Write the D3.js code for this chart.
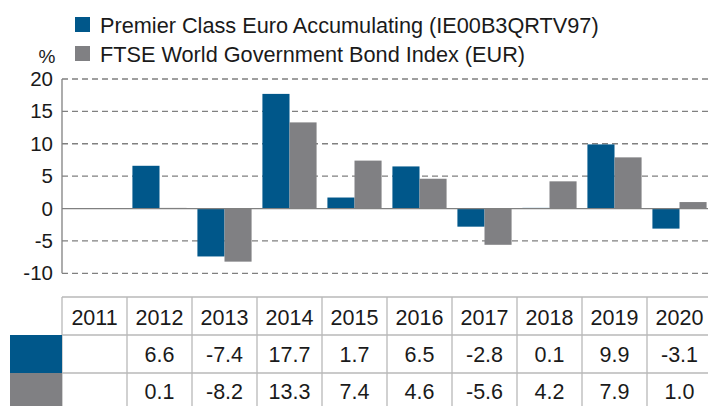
<!DOCTYPE html>
<html><head><meta charset="utf-8">
<script src="https://cdn.jsdelivr.net/npm/d3@7"></script>
<style>
html,body{margin:0;padding:0;background:#fff;overflow:hidden;}
text{font-family:"Liberation Sans",Arial,sans-serif;fill:#1a1a1a;}
</style></head>
<body>
<svg id="c" width="708" height="406"></svg>
<script>
const years = ["2011","2012","2013","2014","2015","2016","2017","2018","2019","2020"];
const fundValues = [null, 6.6, -7.4, 17.7, 1.7, 6.5, -2.8, 0.1, 9.9, -3.1];
const indexValues = [null, 0.1, -8.2, 13.3, 7.4, 4.6, -5.6, 4.2, 7.9, 1.0];
const seriesNames = ["Premier Class Euro Accumulating (IE00B3QRTV97)", "FTSE World Government Bond Index (EUR)"];
const yTicks = [20, 15, 10, 5, 0, -5, -10];
const colors = ["#00578a", "#808083"];

const svg = d3.select("#c");
const x = d3.scaleBand().domain(years).range([62, 712]).paddingInner(0).paddingOuter(0);
const y = d3.scaleLinear().domain([-10, 20]).range([273.3, 79]);
const inner = d3.scaleBand().domain([0,1]).range([0, x.bandwidth()]).paddingOuter(0.2).paddingInner(0);
const hy = v => String(v).replace("\u2212", "-");

// gridlines
const grid = svg.append("g");
yTicks.forEach(t => {
  if (t === 0) return;
  grid.append("line").attr("x1", 62).attr("x2", 708).attr("y1", y(t)).attr("y2", y(t))
    .attr("stroke", "#808080").attr("stroke-width", 1.3).attr("stroke-dasharray", "6,4");
});

// y axis labels
const yAxis = d3.axisLeft(y).tickValues(yTicks).tickSize(0).tickPadding(9).tickFormat(d => hy(d));
const ya = svg.append("g").attr("transform", "translate(62,0)").call(yAxis);
ya.select(".domain").remove();
ya.selectAll("text").attr("font-size", 20.5).attr("fill", "#1a1a1a").attr("font-family", "Liberation Sans, Arial, sans-serif");

// bars
const data = [fundValues, indexValues];
data.forEach((vals, si) => {
  svg.append("g").selectAll("rect").data(years.map((yr, i) => ({yr, v: vals[i]})).filter(d => d.v !== null))
    .join("rect")
    .attr("x", d => x(d.yr) + inner(si))
    .attr("width", inner.bandwidth())
    .attr("y", d => y(Math.max(0, d.v)))
    .attr("height", d => Math.abs(y(d.v) - y(0)))
    .attr("fill", colors[si]);
});

// zero line and y-axis line
svg.append("line").attr("x1", 62).attr("x2", 708).attr("y1", y(0)).attr("y2", y(0)).attr("stroke", "#808080").attr("stroke-width", 1.3);
svg.append("line").attr("x1", 62).attr("x2", 62).attr("y1", y(20)).attr("y2", y(-10)).attr("stroke", "#808080").attr("stroke-width", 1.3);

// % label
svg.append("text").attr("x", 47).attr("y", 63).attr("text-anchor", "middle").attr("font-size", 19).text("%");

// legend
seriesNames.forEach((name, i) => {
  const ly = 17 + i * 29;
  svg.append("rect").attr("x", 75).attr("y", ly).attr("width", 15).attr("height", 15).attr("fill", colors[i]);
  svg.append("text").attr("x", 100).attr("y", ly + 15.5).attr("font-size", 21.7).text(name);
});

// table
const tTop = 297, r1 = 335, r2 = 373, tBot = 406;
const tl = svg.append("g");
const lineCol = "#b8b8b8";
[tTop, r1, r2].forEach(ry => {
  tl.append("line").attr("x1", 62).attr("x2", 708).attr("y1", ry).attr("y2", ry).attr("stroke", lineCol).attr("stroke-width", 1.3);
});
years.forEach(yr => {
  tl.append("line").attr("x1", x(yr)).attr("x2", x(yr)).attr("y1", tTop).attr("y2", tBot).attr("stroke", lineCol).attr("stroke-width", 1.3);
});
// legend color cells
svg.append("rect").attr("x", 10).attr("y", r1).attr("width", 52).attr("height", r2 - r1).attr("fill", colors[0]);
svg.append("rect").attr("x", 10).attr("y", r2).attr("width", 52).attr("height", tBot - r2).attr("fill", colors[1]);

const fmt = v => hy(d3.format(".1f")(v));
years.forEach((yr, i) => {
  const cx = x(yr) + x.bandwidth() / 2;
  svg.append("text").attr("x", cx).attr("y", 325).attr("text-anchor", "middle").attr("font-size", 21.5).text(yr);
  if (fundValues[i] !== null)
    svg.append("text").attr("x", cx).attr("y", 362).attr("text-anchor", "middle").attr("font-size", 21.5).text(fmt(fundValues[i]));
  if (indexValues[i] !== null)
    svg.append("text").attr("x", cx).attr("y", 399).attr("text-anchor", "middle").attr("font-size", 21.5).text(fmt(indexValues[i]));
});
</script>
</body></html>
